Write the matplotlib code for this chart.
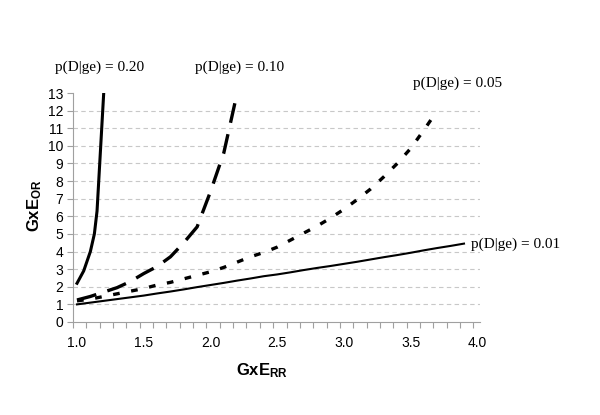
import numpy as np
import matplotlib
matplotlib.use("Agg")
import matplotlib.pyplot as plt

plt.rcParams['mathtext.fontset'] = 'custom'
plt.rcParams['mathtext.bf'] = 'Liberation Sans:bold'
plt.rcParams['mathtext.rm'] = 'Liberation Sans'

# curve p(D|ge) = 0.20
x20 = [1.0, 1.05, 1.1, 1.13, 1.15, 1.2]
y20 = [2.2, 2.9, 4.0, 5.0, 6.3, 13.0]
# curve p(D|ge) = 0.10
x10 = [1.0, 1.1, 1.2, 1.3, 1.4, 1.5, 1.6, 1.7, 1.8, 1.9, 2.0, 2.1, 2.2]
y10 = [1.25, 1.45, 1.7, 1.95, 2.3, 2.75, 3.15, 3.7, 4.5, 5.4, 7.4, 9.6, 13.0]
# curve p(D|ge) = 0.05
x05 = [1.0, 1.1, 1.2, 1.3, 1.4, 1.5, 1.6, 1.7, 1.8, 1.9, 2.0, 2.1, 2.2, 2.3,
       2.4, 2.5, 2.6, 2.7, 2.8, 2.9, 3.0, 3.1, 3.2, 3.3, 3.4, 3.5, 3.6, 3.7]
y05 = [1.2, 1.3, 1.45, 1.6, 1.75, 1.9, 2.1, 2.25, 2.45, 2.65, 2.85, 3.1, 3.4, 3.7,
       3.95, 4.25, 4.65, 5.05, 5.45, 5.9, 6.4, 6.95, 7.55, 8.25, 9.0, 9.85, 10.9, 12.0]
# curve p(D|ge) = 0.01
x01 = [1.0, 1.1, 1.2, 1.3, 1.4, 1.5, 1.6, 1.7, 1.8, 1.9, 2.0, 2.1, 2.2, 2.3, 2.4,
       2.5, 2.6, 2.7, 2.8, 2.9, 3.0, 3.1, 3.2, 3.3, 3.4, 3.5, 3.6, 3.7, 3.8, 3.9]
y01 = [1.0, 1.1, 1.2, 1.3, 1.4, 1.5, 1.62, 1.73, 1.85, 1.98, 2.1, 2.22, 2.35, 2.47, 2.6,
       2.7, 2.82, 2.95, 3.07, 3.18, 3.3, 3.42, 3.55, 3.68, 3.8, 3.93, 4.07, 4.2, 4.32, 4.45]

etykiety = ["p(D|ge) = 0.20", "p(D|ge) = 0.10", "p(D|ge) = 0.05", "p(D|ge) = 0.01"]
xticki = [1.0, 1.5, 2.0, 2.5, 3.0, 3.5, 4.0]

fig = plt.figure(figsize=(6, 4.15), dpi=100)
ax = fig.add_axes([0.1217, 0.2241, 0.6783, 0.5518])

szary = "#a0a0a0"
for y in range(1, 13):
    ax.axhline(y, color="#c8c8c8", lw=0.8, ls=(0, (4, 3)), zorder=0)

ax.plot(x20, y20, color="black", lw=2.2, solid_joinstyle="round")
ax.plot(x10, y10, color="black", lw=2.4, ls=(0, (6, 3.5)))
ax.plot(x05, y05, color="black", lw=2.4, ls=(0, (2, 3.5)))
ax.plot(x01, y01, color="black", lw=1.5)

ax.set_xlim(0.97, 4.02)
ax.set_ylim(0, 13)
ax.set_yticks(range(0, 14))
ax.set_xticks(xticki)
ax.set_xticklabels(["%.1f" % v for v in xticki])
ax.set_xticks(np.arange(0.97, 4.03, 0.1), minor=True)
ax.tick_params(axis="x", which="major", length=0, pad=10)
ax.tick_params(axis="x", which="minor", length=4, color=szary, width=0.8)
ax.tick_params(axis="y", length=4, color=szary, width=0.8, pad=3)
for lab in ax.get_xticklabels() + ax.get_yticklabels():
    lab.set_fontfamily("Liberation Sans")
    lab.set_fontsize(10)
for s in ["top", "right"]:
    ax.spines[s].set_visible(False)
for s in ["left", "bottom"]:
    ax.spines[s].set_color(szary)
    ax.spines[s].set_linewidth(0.8)

fig.text(0.437, 0.108, r"$\mathbf{GxE_{RR}}$", ha="center", va="center", fontsize=12)
fig.text(0.058, 0.505, r"$\mathbf{GxE_{OR}}$", ha="center", va="center", fontsize=12, rotation=90)

fig.text(55 / 600, 1 - 67 / 415, etykiety[0], family="Liberation Serif", fontsize=11, va="center")
fig.text(195 / 600, 1 - 67 / 415, etykiety[1], family="Liberation Serif", fontsize=11, va="center")
fig.text(413 / 600, 1 - 83 / 415, etykiety[2], family="Liberation Serif", fontsize=11, va="center")
fig.text(471 / 600, 1 - 244 / 415, etykiety[3], family="Liberation Serif", fontsize=11, va="center")

fig.savefig("out.png", dpi=100)
